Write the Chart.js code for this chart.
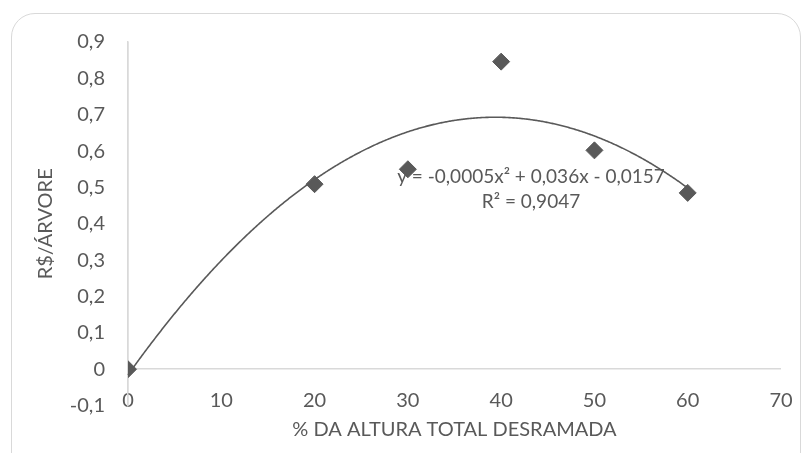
<!DOCTYPE html>
<html>
<head>
<meta charset="utf-8">
<script src="https://cdn.jsdelivr.net/npm/chart.js@4.4.1/dist/chart.umd.min.js"></script>
<style>
  body { margin: 0; background: #fff; }
  #wrap { position: relative; width: 811px; height: 453px; overflow: hidden; }
  #frame { position: absolute; left: 11px; top: 13px; width: 790px; height: 480px; border: 1.5px solid #d9d9d9; border-radius: 24px; box-sizing: border-box; }
  canvas { position: absolute; left: 0; top: 0; }
</style>
</head>
<body>
<div id="wrap"><div id="frame"></div><canvas id="chart" width="811" height="453"></canvas></div>
<script>
const X_VALUES = [0, 20, 30, 40, 50, 60];
const Y_VALUES = [0, 0.509, 0.55, 0.846, 0.602, 0.485];
const X_TICKS = [0, 10, 20, 30, 40, 50, 60, 70];
const Y_TICKS = [-0.1, 0, 0.1, 0.2, 0.3, 0.4, 0.5, 0.6, 0.7, 0.8, 0.9];
const EQUATION = ['y = -0,0005x² + 0,036x - 0,0157', 'R² = 0,9047'];
const EQUATION_AT = [43.2, 0.53]; // data coords of the label's first line
const X_TITLE = '% DA ALTURA TOTAL DESRAMADA';
const Y_TITLE = 'R$/ÁRVORE';

const GREY = '#595959';
const AXIS = '#d9d9d9';
const FONT = 'Lato, "Liberation Sans", sans-serif';

// least squares 2nd order fit, same as the spreadsheet trendline
function quadFit(xs, ys) {
  const s = k => xs.reduce((acc, x) => acc + x ** k, 0);
  const t = k => xs.reduce((acc, x, i) => acc + x ** k * ys[i], 0);
  const A = [[s(4), s(3), s(2)], [s(3), s(2), s(1)], [s(2), s(1), s(0)]];
  const B = [t(2), t(1), t(0)];
  for (let i = 0; i < 3; i++) {
    for (let j = i + 1; j < 3; j++) {
      const f = A[j][i] / A[i][i];
      for (let k = i; k < 3; k++) A[j][k] -= f * A[i][k];
      B[j] -= f * B[i];
    }
  }
  const r = [0, 0, 0];
  for (let i = 2; i >= 0; i--) {
    let v = B[i];
    for (let k = i + 1; k < 3; k++) v -= A[i][k] * r[k];
    r[i] = v / A[i][i];
  }
  return r;
}
const FIT = quadFit(X_VALUES, Y_VALUES);

const trendline = {
  id: 'trendline',
  beforeDatasetsDraw(chart) {
    const { ctx, scales: { x, y } } = chart;
    const [a, b, c] = FIT;
    const p0 = x.getPixelForValue(Math.min(...X_VALUES));
    const p1 = x.getPixelForValue(Math.max(...X_VALUES));
    ctx.save();
    ctx.beginPath();
    for (let px = p0; px <= p1 + 0.01; px += 1) {
      const v = x.getValueForPixel(Math.min(px, p1));
      const py = y.getPixelForValue(a * v * v + b * v + c);
      if (px === p0) ctx.moveTo(px, py); else ctx.lineTo(px, py);
    }
    ctx.strokeStyle = GREY;
    ctx.lineWidth = 1.6;
    ctx.stroke();

    ctx.fillStyle = GREY;
    ctx.font = '19px ' + FONT;
    ctx.textAlign = 'center';
    ctx.textBaseline = 'middle';
    const lx = x.getPixelForValue(EQUATION_AT[0]);
    const ly = y.getPixelForValue(EQUATION_AT[1]);
    EQUATION.forEach((line, i) => ctx.fillText(line, lx, ly + i * 25.6));
    ctx.restore();
  }
};

const fmt = v => String(Math.round(v * 10) / 10).replace('.', ',');

new Chart(document.getElementById('chart'), {
  type: 'scatter',
  data: {
    datasets: [{
      data: X_VALUES.map((x, i) => ({ x, y: Y_VALUES[i] })),
      pointStyle: 'rectRot',
      pointRadius: 8.5,
      pointBackgroundColor: GREY,
      pointBorderColor: GREY,
      pointBorderWidth: 1
    }]
  },
  options: {
    responsive: false,
    animation: false,
    devicePixelRatio: 1,
    layout: { padding: { left: 0, right: 30, top: 42, bottom: 11 } },
    plugins: { legend: { display: false }, tooltip: { enabled: false } },
    scales: {
      x: {
        type: 'linear', min: 0, max: 70,
        afterBuildTicks: s => { s.ticks = X_TICKS.map(value => ({ value })); },
        afterFit: s => { s.height = 36.4; },
        grid: { display: true, drawTicks: false, color: c => c.tick && c.tick.value === 0 ? AXIS : 'transparent', lineWidth: 1.5 },
        border: { display: false },
        // mirrored so the labels may sit just above the bottom edge, under the zero line
        ticks: { color: GREY, font: { family: FONT, size: 20 }, mirror: true, padding: -7.4, maxRotation: 0, autoSkip: false },
        title: { display: true, text: X_TITLE, color: GREY, font: { family: FONT, size: 20 }, padding: { top: 0, bottom: 0 } }
      },
      y: {
        type: 'linear', min: -0.1, max: 0.9,
        afterBuildTicks: s => { s.ticks = Y_TICKS.map(value => ({ value })); },
        afterFit: s => { s.width = 128; },
        grid: { display: true, drawTicks: false, color: c => c.tick && Math.abs(c.tick.value) < 1e-9 ? AXIS : 'transparent', lineWidth: 1.5 },
        border: { display: true, color: AXIS, width: 1.5 },
        ticks: { color: GREY, font: { family: FONT, size: 20 }, padding: 23, callback: fmt, autoSkip: false },
        title: { display: true, text: Y_TITLE, color: GREY, font: { family: FONT, size: 20 }, padding: { top: 33.5, bottom: 0 } }
      }
    }
  },
  plugins: [trendline]
});
</script>
</body>
</html>
